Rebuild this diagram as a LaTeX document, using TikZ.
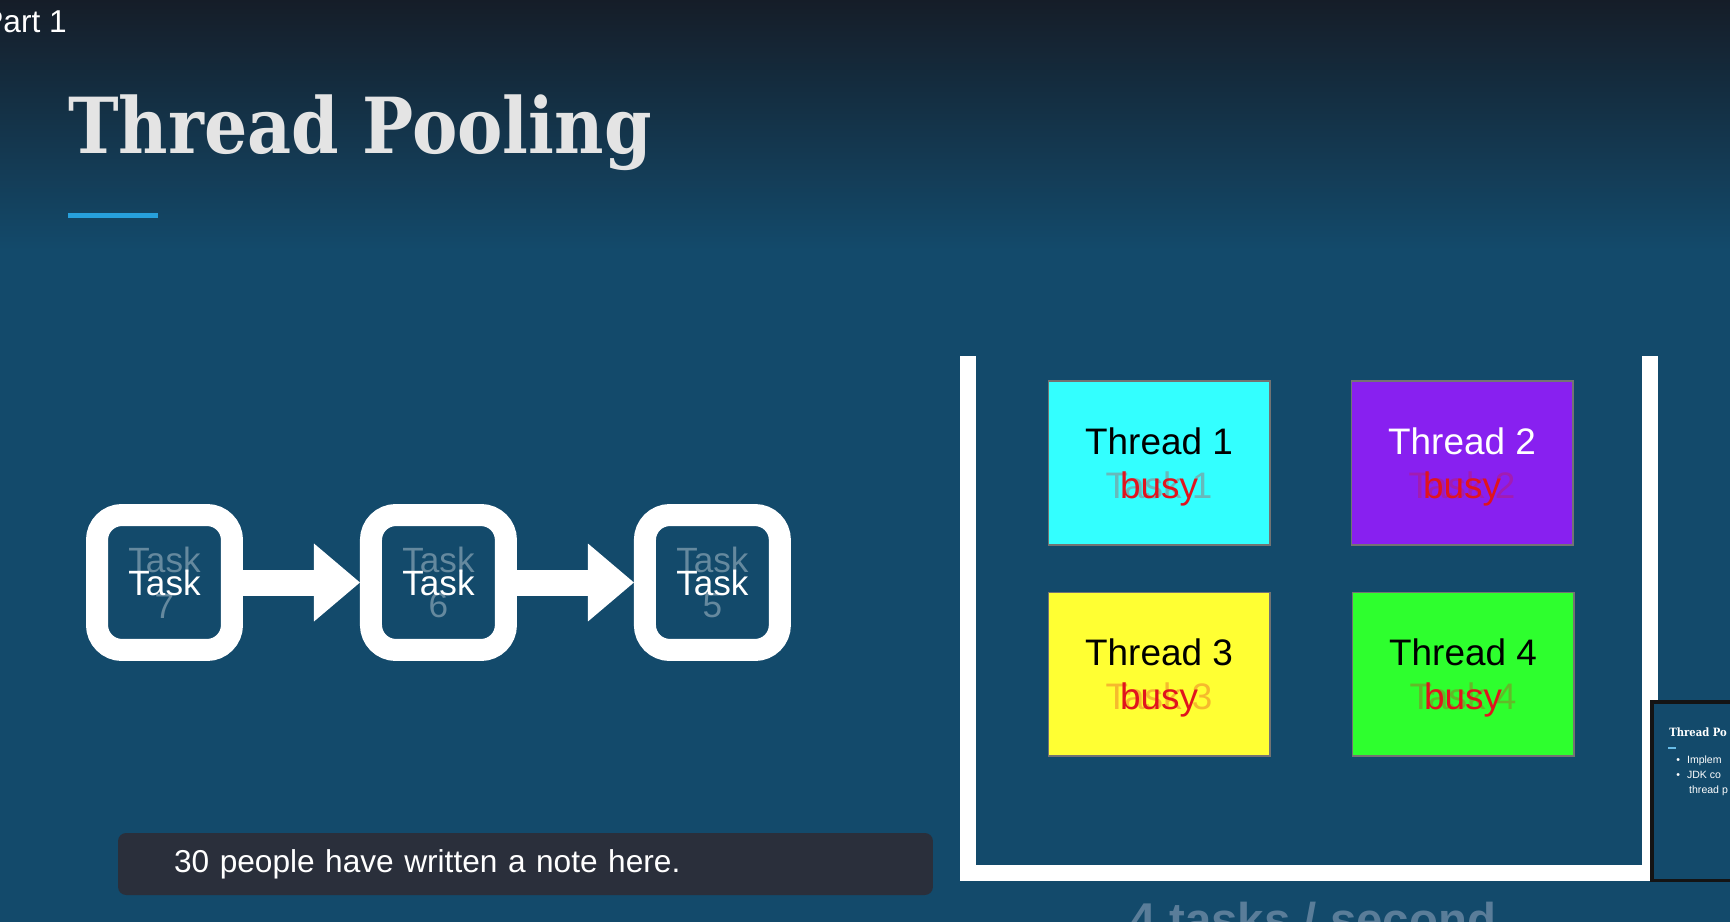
\documentclass[tikz,border=0pt]{standalone}
\usepackage{fontspec}
\setmainfont{Liberation Sans}
\newfontfamily\titlefont[FakeStretch=0.88]{DejaVu Serif}
\usetikzlibrary{arrows.meta,positioning}

\definecolor{slidebg}{HTML}{134A6B}
\definecolor{slidetop}{HTML}{151D28}
\definecolor{titlegray}{HTML}{E4E4E4}
\definecolor{accentblue}{HTML}{27A0DC}
\definecolor{threadcyan}{HTML}{33FFFF}
\definecolor{threadpurple}{HTML}{8820F0}
\definecolor{threadyellow}{HTML}{FFFF33}
\definecolor{threadgreen}{HTML}{2EFF2E}
\definecolor{busyred}{HTML}{E0141E}
\definecolor{notebg}{HTML}{2A2F3B}
\definecolor{ratetext}{HTML}{5A7D99}

\newcommand{\busyline}[2]{\makebox[0pt]{\textcolor{busyred!30!#1}{Task #2}}\makebox[0pt]{\textcolor{busyred}{busy}}}
\newcommand{\threadlabel}[3]{\rule{0pt}{20pt}#1\\\busyline{#2}{#3}}

\begin{document}
\begin{tikzpicture}[x=0.02cm,y=-0.02cm,
  task/.style={draw=white,line width=0.44cm,rounded corners=0.5cm,minimum size=2.7cm,
    inner sep=0pt,text=white,font=\fontsize{20}{26}\selectfont},
  oldtask/.style={text=white,text opacity=0.35,align=center,inner sep=0pt,
    font=\fontsize{20}{26}\selectfont},
  flow/.style={white,line width=0.52cm,-{Triangle[length=0.92cm,width=1.56cm,line width=0pt]}},
  thread/.style={minimum width=4.44cm,minimum height=3.28cm,inner sep=0pt,draw=black!55,
    line width=0.6pt,align=center,font=\fontsize{21}{25}\selectfont},
  note/.style={fill=notebg,rounded corners=0.16cm,minimum height=1.24cm,text width=14.06cm,
    inner xsep=1.12cm,align=left,text=white,font=\fontsize{18}{20}\selectfont}
]
\useasboundingbox (0,0) rectangle (1730,922);
\clip (0,0) rectangle (1730,922);
\fill[slidebg] (0,0) rectangle (1730,922);
\shade[top color=slidetop,bottom color=slidebg] (0,0) rectangle (1730,250);

\node[anchor=base west,inner sep=0pt,text=white,font=\fontsize{18}{20}\selectfont] (part) at (-18,33) {Part 1};
\node[anchor=base west,inner sep=0pt,text=titlegray,font=\titlefont\bfseries\fontsize{44}{48}\selectfont] (title) at (68,154) {Thread Pooling};
\fill[accentblue] (68,213) rectangle (158,218);

\node[task] (task7) at (164.5,582.5) {Task};
\node[task,right=2.34cm of task7] (task6) {Task};
\node[task,right=2.34cm of task6] (task5) {Task};
\node[oldtask] at (task7) {Task\\7};
\node[oldtask] at (task6) {Task\\6};
\node[oldtask] at (task5) {Task\\5};
\draw[flow] (task7) -- (task6);
\draw[flow] (task6) -- (task5);

\draw[white,line width=0.32cm] (968,356) |- (1650,873) -- (1650,356);

\node[thread,fill=threadcyan] (thread1) at (1159,463) {\threadlabel{Thread 1}{threadcyan}{1}};
\node[thread,fill=threadpurple,right=1.6cm of thread1] (thread2) {\threadlabel{\textcolor{white}{Thread 2}}{threadpurple}{2}};
\node[thread,fill=threadyellow,below=0.92cm of thread1] (thread3) {\threadlabel{Thread 3}{threadyellow}{3}};
\node[thread,fill=threadgreen,right=1.62cm of thread3] (thread4) {\threadlabel{Thread 4}{threadgreen}{4}};

\node[draw=black!92,line width=0.07cm,fill=slidebg,anchor=north west,minimum width=2cm,minimum height=3.58cm] (nextslide) at (1650,700) {};
\node[anchor=base west,inner sep=0pt,text=white!85,font=\titlefont\bfseries\fontsize{6.5}{8}\selectfont] (nexttitle) at (1669,736) {Thread Po};
\fill[accentblue!70] (1668,747) rectangle (1676,749);
\node[anchor=north west,inner sep=0pt,text=white!80,align=left,font=\fontsize{6}{8.3}\selectfont] (nextbody) at (1676,756) {\textbullet\hspace{4pt}Implem\\\textbullet\hspace{4pt}JDK co\\\hspace{7.3pt}thread p};

\node[note] (note) at (525.5,864) {30 people have written a note here.};
\node[anchor=base,inner sep=0pt,text=ratetext,font=\bfseries\fontsize{27}{30}\selectfont] (rate) at (1313,936) {4 tasks / second};
\end{tikzpicture}
\end{document}
